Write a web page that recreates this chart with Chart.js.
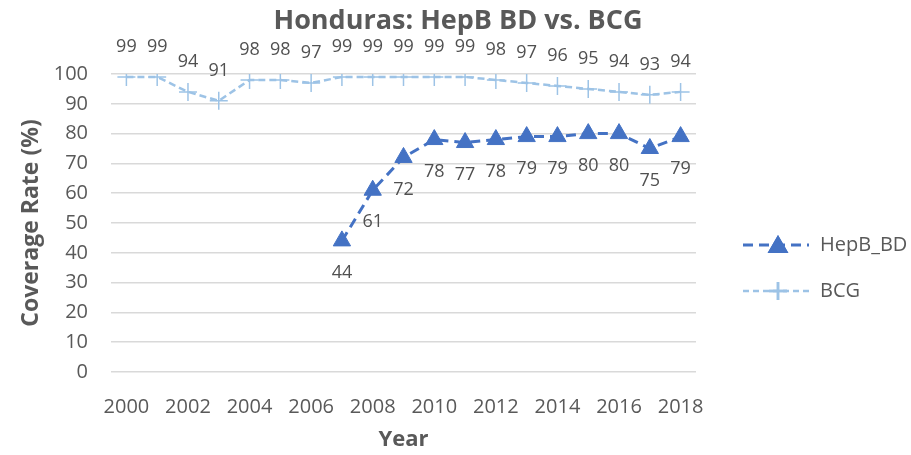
<!DOCTYPE html>
<html>
<head>
<meta charset="utf-8">
<script src="https://cdn.jsdelivr.net/npm/chart.js@4.4.1/dist/chart.umd.min.js"></script>
<style>
  html, body { margin: 0; padding: 0; background: #fff; }
  #wrap { width: 911px; height: 455px; }
</style>
</head>
<body>
<div id="wrap"><canvas id="chart"></canvas></div>
<script>
// Data
const years = ['2000', '2001', '2002', '2003', '2004', '2005', '2006', '2007', '2008', '2009',
  '2010', '2011', '2012', '2013', '2014', '2015', '2016', '2017', '2018'];
const hepbBD = [null, null, null, null, null, null, null, 44, 61, 72, 78, 77, 78, 79, 79, 80, 80, 75, 79];
const bcg = [99, 99, 94, 91, 98, 98, 97, 99, 99, 99, 99, 99, 98, 97, 96, 95, 94, 93, 94];
const yTicks = [0, 10, 20, 30, 40, 50, 60, 70, 80, 90, 100];

const textColor = '#595959';
const hepbColor = '#4472C4';
const bcgColor = '#9DC3E6';
const fontFamily = '"Open Sans", "Noto Sans", sans-serif';

// Title centred over the whole picture (Chart.js title would centre over the plot only)
const pageTitle = {
  id: 'pageTitle',
  afterDraw(chart) {
    const ctx = chart.ctx;
    ctx.save();
    ctx.font = 'bold 27px ' + fontFamily;
    ctx.fillStyle = textColor;
    ctx.textAlign = 'center';
    ctx.textBaseline = 'middle';
    ctx.fillText('Honduras: HepB BD vs. BCG', 458, 21);
    ctx.restore();
  }
};

// Value labels: BCG above points, HepB below
const valueLabels = {
  id: 'valueLabels',
  afterDatasetsDraw(chart) {
    const ctx = chart.ctx;
    ctx.save();
    ctx.font = '18px ' + fontFamily;
    ctx.fillStyle = '#505050';
    ctx.textAlign = 'center';
    ctx.textBaseline = 'middle';
    chart.data.datasets.forEach((ds, i) => {
      const meta = chart.getDatasetMeta(i);
      meta.data.forEach((pt, j) => {
        const v = ds.data[j];
        if (v == null) return;
        const dy = ds.labelPos === 'above' ? -30 : 32;
        ctx.fillText(String(v), pt.x, pt.y + dy);
      });
    });
    ctx.restore();
  }
};

// Excel-like legend on the right
const sideLegend = {
  id: 'sideLegend',
  afterDraw(chart) {
    const ctx = chart.ctx;
    const items = [
      { label: 'HepB_BD', color: hepbColor, dash: [10, 6], width: 3, y: 245, style: 'triangle', r: 9 },
      { label: 'BCG', color: bcgColor, dash: [6, 4], width: 2.5, y: 291, style: 'cross', r: 9 }
    ];
    ctx.save();
    items.forEach(it => {
      ctx.strokeStyle = it.color;
      ctx.lineWidth = it.width;
      ctx.setLineDash(it.dash);
      ctx.beginPath();
      ctx.moveTo(743, it.y);
      ctx.lineTo(809, it.y);
      ctx.stroke();
      ctx.setLineDash([]);
      Chart.helpers.drawPoint(ctx, {
        pointStyle: it.style, radius: it.r, borderWidth: 1.5,
        rotation: 0
      }, 778, it.y + (it.style === 'triangle' ? 2 : 0));
      ctx.fillStyle = it.color;
      if (it.style === 'triangle') ctx.fill();
      ctx.stroke();
      ctx.fillStyle = textColor;
      ctx.font = '20px ' + fontFamily;
      ctx.textAlign = 'left';
      ctx.textBaseline = 'middle';
      ctx.fillText(it.label, 820, it.y);
    });
    ctx.restore();
  }
};

new Chart(document.getElementById('chart'), {
  type: 'line',
  data: {
    labels: years,
    datasets: [
      {
        label: 'HepB_BD',
        data: hepbBD,
        borderColor: hepbColor,
        backgroundColor: hepbColor,
        borderWidth: 3,
        borderDash: [10, 6],
        pointStyle: 'triangle',
        pointRadius: 10,
        pointHoverRadius: 10,
        pointBorderWidth: 1,
        tension: 0,
        spanGaps: false,
        labelPos: 'below'
      },
      {
        label: 'BCG',
        data: bcg,
        borderColor: bcgColor,
        backgroundColor: bcgColor,
        borderWidth: 2.5,
        borderDash: [7, 4],
        pointStyle: 'cross',
        pointRadius: 9,
        pointHoverRadius: 9,
        pointBorderWidth: 1.5,
        tension: 0,
        labelPos: 'above'
      }
    ]
  },
  options: {
    responsive: true,
    maintainAspectRatio: false,
    animation: false,
    layout: { padding: { left: 0, right: 215, top: 74, bottom: 0 } },
    plugins: {
      legend: { display: false },
      tooltip: { enabled: false },
      title: { display: false }
    },
    scales: {
      x: {
        offset: true,
        grid: { display: false, drawTicks: false },
        border: { display: false },
        ticks: {
          color: textColor,
          font: { family: fontFamily, size: 20 },
          autoSkip: false,
          maxRotation: 0,
          padding: 23,
          callback: (v, i) => (i % 2 === 0 ? years[i] : '')
        },
        title: {
          display: true,
          text: 'Year',
          color: textColor,
          font: { family: fontFamily, size: 22, weight: 'bold', lineHeight: 1.2 },
          padding: { top: 2, bottom: 2 }
        },
        afterFit: s => { s.height = 83; }
      },
      y: {
        min: yTicks[0],
        max: yTicks[yTicks.length - 1],
        grid: { color: '#D9D9D9', lineWidth: 1.5, drawTicks: false },
        border: { display: false },
        ticks: {
          color: textColor,
          font: { family: fontFamily, size: 20 },
          stepSize: 10,
          padding: 23
        },
        afterBuildTicks: s => { s.ticks = yTicks.map(v => ({ value: v })); },
        title: {
          display: true,
          text: 'Coverage Rate (%)',
          color: textColor,
          font: { family: fontFamily, size: 23, weight: 'bold', lineHeight: 1.2 },
          padding: { top: 18, bottom: 0 }
        },
        afterFit: s => { s.width = 111; }
      }
    }
  },
  plugins: [valueLabels, sideLegend, pageTitle]
});
</script>
</body>
</html>
